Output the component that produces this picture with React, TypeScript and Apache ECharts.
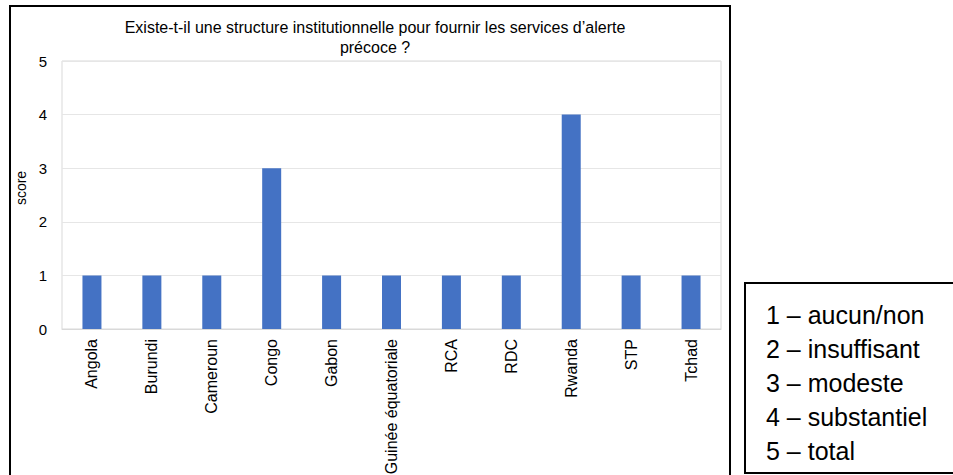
import React, { useEffect, useRef } from "react";
import * as echarts from "echarts";

const categories = ["Angola", "Burundi", "Cameroun", "Congo", "Gabon", "Guinée équatoriale", "RCA", "RDC", "Rwanda", "STP", "Tchad"];
const scores = [1, 1, 1, 3, 1, 1, 1, 1, 4, 1, 1];
const legendLines = ["1 – aucun/non", "2 – insuffisant", "3 – modeste", "4 – substantiel", "5 – total"];
const titleText = "Existe-t-il une structure institutionnelle pour fournir les services d’alerte\nprécoce ?";

const FONT = "'Liberation Sans', Arial, sans-serif";

export default function App() {
  const ref = useRef<HTMLDivElement>(null);
  useEffect(() => {
    if (!ref.current) return;
    const chart = echarts.init(ref.current, null, { renderer: "svg" });
    chart.setOption({
      animation: false,
      backgroundColor: "#ffffff",
      textStyle: { fontFamily: FONT },
      title: {
        text: titleText,
        left: 370,
        top: 12,
        textAlign: "center",
        textStyle: { fontSize: 16, fontWeight: "normal", color: "#000", lineHeight: 20, fontFamily: FONT },
      },
      grid: {
        left: 62, top: 61, right: 232, bottom: 146,
        show: true, borderColor: "#d9d9d9", borderWidth: 1,
        containLabel: false, outerBoundsMode: "none",
      },
      xAxis: {
        type: "category",
        data: categories,
        axisLine: { show: true, lineStyle: { color: "#d9d9d9" } },
        axisTick: { show: false },
        axisLabel: { rotate: 90, fontSize: 16, color: "#000", margin: 10, interval: 0, fontFamily: FONT },
      },
      yAxis: {
        type: "value",
        min: 0,
        max: 5,
        interval: 1,
        name: "score",
        nameLocation: "middle",
        nameGap: 28,
        nameRotate: 90,
        nameTextStyle: { fontSize: 14, color: "#000", fontFamily: FONT, padding: [0, 0, 0, 14] },
        axisLine: { show: false },
        axisTick: { show: false },
        splitLine: { lineStyle: { color: "#e6e6e6" } },
        axisLabel: { fontSize: 15, color: "#000", margin: 15, fontFamily: FONT },
      },
      series: [
        {
          type: "bar",
          data: scores,
          barWidth: 19,
          itemStyle: { color: "#4472C4" },
        },
      ],
      graphic: [
        { type: "rect", shape: { x: 10, y: 6, width: 720, height: 480 }, style: { fill: "none", stroke: "#000", lineWidth: 2 }, silent: true },
        { type: "rect", shape: { x: 745, y: 283, width: 230, height: 190 }, style: { fill: "none", stroke: "#000", lineWidth: 2 }, silent: true },
        ...legendLines.map((t, i) => ({
          type: "text",
          x: 766,
          y: 315 + i * 34,
          style: { text: t, fontSize: 25, fill: "#000", fontFamily: FONT, verticalAlign: "middle", align: "left" },
          silent: true,
        })),
      ],
    });
    return () => chart.dispose();
  }, []);
  return <div ref={ref} style={{ position: "fixed", left: 0, top: 0, width: 953, height: 475 }} />;
}
